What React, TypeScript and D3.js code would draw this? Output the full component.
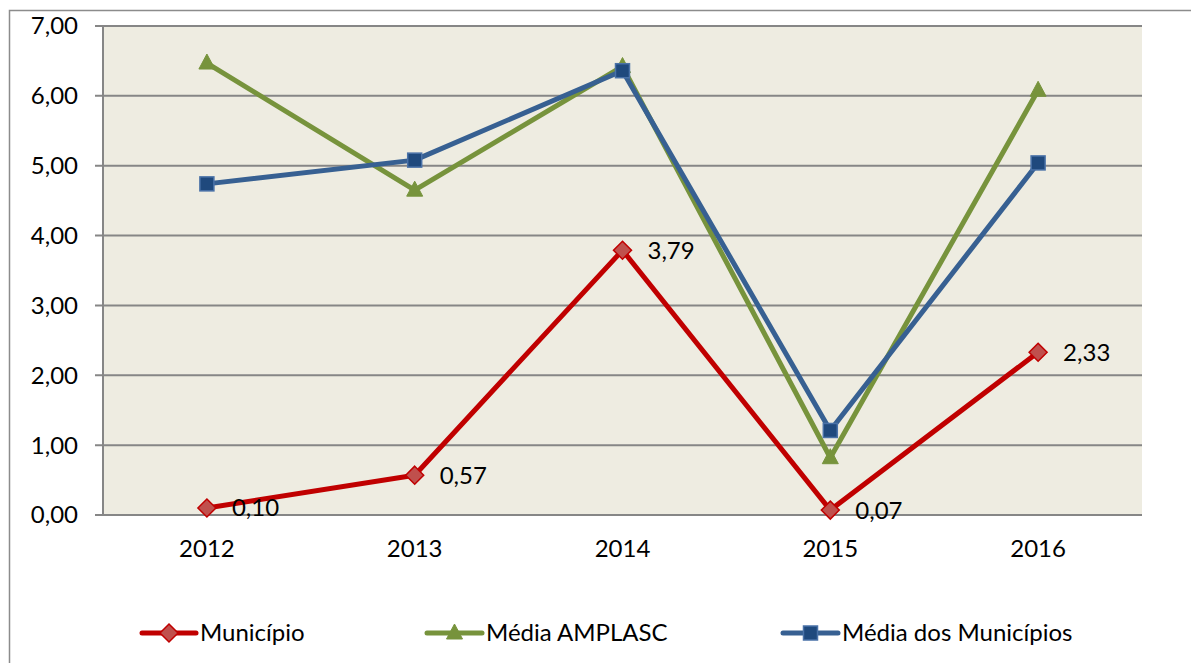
import React, { useRef, useEffect } from 'react';
import * as d3 from 'd3';

const years = ['2012', '2013', '2014', '2015', '2016'];
const municipio = [0.1, 0.57, 3.79, 0.07, 2.33];
const mediaAmplasc = [6.47, 4.65, 6.42, 0.82, 6.08];
const mediaMunicipios = [4.74, 5.08, 6.36, 1.21, 5.04];
const yTicks = [0, 1, 2, 3, 4, 5, 6, 7];

const fmt = (v: number) => v.toFixed(2).replace('.', ',');

const App = () => {
  const svgRef = useRef<SVGSVGElement>(null);

  useEffect(() => {
    const width = 1191;
    const height = 663;
    const left = 103;
    const right = 1142;
    const top = 26;
    const bottom = 515;
    const font = "Lato, 'Open Sans', sans-serif";
    const fs = '24px';

    const svg = d3.select(svgRef.current)
      .attr('width', width)
      .attr('height', height)
      .style('position', 'absolute')
      .style('left', '0px')
      .style('top', '0px');
    svg.selectAll('*').remove();

    svg.append('rect').attr('width', width).attr('height', height).attr('fill', '#fff');

    // outer frame (only top and left visible)
    svg.append('rect')
      .attr('x', 9.5).attr('y', 10.5)
      .attr('width', 1400).attr('height', 900)
      .attr('fill', 'none').attr('stroke', '#8c8c8c').attr('stroke-width', 1.5);

    const x = d3.scaleBand().domain(years).range([left, right]);
    const y = d3.scaleLinear().domain([0, 7]).range([bottom, top]);
    const cx = (d: string) => (x(d) as number) + x.bandwidth() / 2;

    // plot background
    svg.append('rect')
      .attr('x', left).attr('y', top)
      .attr('width', right - left).attr('height', bottom - top)
      .attr('fill', '#eeece1');

    // gridlines and y ticks
    svg.selectAll('.grid')
      .data(yTicks)
      .enter()
      .append('line')
      .attr('x1', left - 8).attr('x2', right)
      .attr('y1', d => y(d)).attr('y2', d => y(d))
      .attr('stroke', '#868686').attr('stroke-width', 2);

    svg.selectAll('.ylab')
      .data(yTicks)
      .enter()
      .append('text')
      .attr('x', 78).attr('y', d => y(d))
      .attr('dy', '0.35em')
      .attr('text-anchor', 'end')
      .style('font-family', font).style('font-size', fs).attr('fill', '#000')
      .text(d => fmt(d));

    // y axis line
    svg.append('line')
      .attr('x1', left).attr('x2', left).attr('y1', top).attr('y2', bottom)
      .attr('stroke', '#868686').attr('stroke-width', 2);

    svg.selectAll('.xlab')
      .data(years)
      .enter()
      .append('text')
      .attr('x', d => cx(d)).attr('y', 549)
      .attr('dy', '0.35em')
      .attr('text-anchor', 'middle')
      .style('font-family', font).style('font-size', fs).attr('fill', '#000')
      .text(d => d);

    const series = [
      { name: 'Média AMPLASC', values: mediaAmplasc, color: '#77933c', fill: '#77933c', stroke: '#77933c', shape: 'triangle' },
      { name: 'Média dos Municípios', values: mediaMunicipios, color: '#376092', fill: '#1f497d', stroke: '#4a72a8', shape: 'square' },
      { name: 'Município', values: municipio, color: '#c00000', fill: '#c0504d', stroke: '#c00000', shape: 'diamond' },
    ];

    const drawMarker = (g: any, shape: string, px: number, py: number, fill: string, stroke: string) => {
      if (shape === 'diamond') {
        g.append('path')
          .attr('d', `M${px},${py - 9}L${px + 9},${py}L${px},${py + 9}L${px - 9},${py}Z`)
          .attr('fill', fill).attr('stroke', stroke).attr('stroke-width', 1.5);
      } else if (shape === 'square') {
        g.append('rect')
          .attr('x', px - 7).attr('y', py - 7).attr('width', 14).attr('height', 14)
          .attr('fill', fill).attr('stroke', stroke).attr('stroke-width', 1.5);
      } else {
        g.append('path')
          .attr('d', `M${px},${py - 9}L${px + 8},${py + 6}L${px - 8},${py + 6}Z`)
          .attr('fill', fill).attr('stroke', stroke).attr('stroke-width', 1);
      }
    };

    const line = d3.line<number>()
      .x((_, i) => cx(years[i]))
      .y(d => y(d));

    series.forEach(s => {
      svg.append('path')
        .datum(s.values)
        .attr('d', line)
        .attr('fill', 'none')
        .attr('stroke', s.color)
        .attr('stroke-width', 5)
        .attr('stroke-linejoin', 'round');
      s.values.forEach((v, i) => drawMarker(svg, s.shape, cx(years[i]), y(v), s.fill, s.stroke));
    });

    // data labels for Município
    svg.selectAll('.dlab')
      .data(municipio)
      .enter()
      .append('text')
      .attr('x', (_, i) => cx(years[i]) + 25)
      .attr('y', d => y(d))
      .attr('dy', '0.35em')
      .style('font-family', font).style('font-size', fs).attr('fill', '#000')
      .text(d => fmt(d));

    // legend
    const legend = [
      { ...series[2], lx: 142, lw: 54 },
      { ...series[0], lx: 427, lw: 55 },
      { ...series[1], lx: 783, lw: 55 },
    ];
    const ly = 633;
    legend.forEach(l => {
      svg.append('line')
        .attr('x1', l.lx).attr('x2', l.lx + l.lw)
        .attr('y1', ly).attr('y2', ly)
        .attr('stroke', l.color).attr('stroke-width', 5).attr('stroke-linecap', 'round');
      drawMarker(svg, l.shape, l.lx + l.lw / 2, ly, l.fill, l.stroke);
      svg.append('text')
        .attr('x', l.lx + l.lw + 4).attr('y', ly)
        .attr('dy', '0.35em')
        .style('font-family', font).style('font-size', fs).attr('fill', '#000')
        .text(l.name);
    });
  }, []);

  return <svg ref={svgRef}></svg>;
};

export default App;
